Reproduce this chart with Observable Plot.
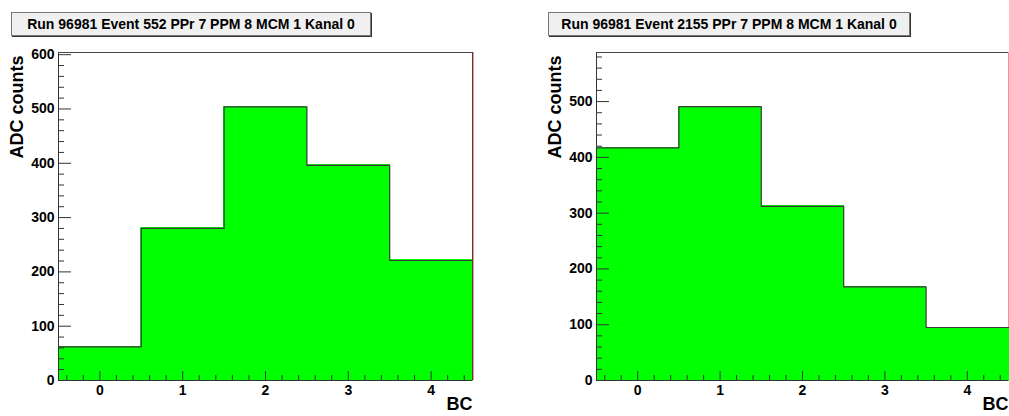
<!DOCTYPE html>
<html><head><meta charset="utf-8">
<script src="https://cdn.jsdelivr.net/npm/d3@7"></script>
<script src="https://cdn.jsdelivr.net/npm/@observablehq/plot@0.6"></script>
<style>
html,body{margin:0;padding:0;background:#fff;overflow:hidden;width:1009px;height:416px;}
#wrap{position:relative;width:1009px;height:416px;overflow:hidden;font-family:"Liberation Sans",Arial,sans-serif;}
.panel{position:absolute;top:0;}
.panel svg{max-width:none !important;display:block;}
.title{position:absolute;top:12px;height:24px;box-sizing:border-box;background:#f0f0f0;border:1px solid #777;box-shadow:1px 1px 0 #333;font-weight:bold;font-size:14px;text-align:center;line-height:23px;color:#000;white-space:nowrap;}
</style></head>
<body>
<div id="wrap"></div>
<script>
// ---- data ----
const bins = [0, 1, 2, 3, 4];
const event552 = [62, 280, 504, 396, 221];
const event2155 = [417, 491, 312, 168, 95];
const titles = ["Run 96981 Event 552 PPr 7 PPM 8 MCM 1 Kanal 0", "Run 96981 Event 2155 PPr 7 PPM 8 MCM 1 Kanal 0"];
const xTickLabels = [0, 1, 2, 3, 4];
const yTickLabels = [0, 100, 200, 300, 400, 500, 600];
const xLabel = "BC";
const yLabel = "ADC counts";
const xDomain = [-0.5, 4.5];

const wrap = document.getElementById("wrap");

function panel({values, yMax, left, width, marginRight, darkRight, title, titleLeft, titleWidth}) {
  const mL = 58, mT = 52, mB = 36, height = 416;
  const frameW = width - mL - marginRight, frameH = height - mT - mB;
  const data = bins.map((b, i) => ({x1: b - 0.5, x2: b + 0.5, v: values[i]}));
  const outline = data.flatMap(d => [[d.x1, d.v], [d.x2, d.v]]);
  const yMinor = d3.range(0, yMax, 20).filter(v => v % 100 !== 0);
  const xMinor = d3.range(-4, 45, 2).map(v => v / 10).filter(v => !Number.isInteger(v));
  const yMajor = yTickLabels.filter(v => v <= yMax);
  const ink = "#333";
  const marks = [
    Plot.ruleX([xDomain[1]], {stroke: "#ff8c8c", dx: darkRight ? 1 : 0}),
    Plot.rect(data, {x1: "x1", x2: "x2", y1: () => 0, y2: "v", fill: "#00ff00", stroke: "#00ff00", strokeWidth: 1, shapeRendering: "crispEdges"}),
    Plot.line(outline, {x: d => d[0], y: d => d[1], stroke: "#3a3a3a", strokeWidth: 1.2}),
    Plot.ruleX([xDomain[0]], {stroke: ink}),
    Plot.ruleY([0], {stroke: ink}),
    Plot.ruleY([yMax], {stroke: "#444"}),
    darkRight ? Plot.ruleX([xDomain[1]], {stroke: "#444"}) : null,
    Plot.ruleY(yMajor, {stroke: ink, insetRight: frameW - 13}),
    Plot.ruleY(yMinor, {stroke: ink, insetRight: frameW - 6}),
    Plot.ruleX(xTickLabels, {stroke: ink, insetTop: frameH - 9}),
    Plot.ruleX(xMinor, {stroke: ink, insetTop: frameH - 5}),
    Plot.text([yLabel], {text: d => d, frameAnchor: "top-left", rotate: -90, textAnchor: "end", dx: -48.5, dy: 3, fontSize: 18, fontWeight: "bold", fill: "#000"}),
    Plot.text([xLabel], {text: d => d, frameAnchor: "bottom-right", textAnchor: "end", dy: 29.2, fontSize: 18, fontWeight: "bold", fill: "#000"})
  ].filter(Boolean);
  const svg = Plot.plot({
    width, height,
    marginLeft: mL, marginRight, marginTop: mT, marginBottom: mB,
    style: {fontFamily: "'Liberation Sans', Arial, sans-serif", fontSize: "14px", fontWeight: "bold", color: "#000", background: "transparent", overflow: "visible", maxWidth: "none"},
    x: {domain: xDomain, ticks: xTickLabels, tickSize: 0, tickPadding: 5, tickFormat: d3.format("d"), label: null},
    y: {domain: [0, yMax], ticks: yMajor, tickSize: 0, tickPadding: 4, tickFormat: d3.format("d"), label: null},
    marks
  });
  const div = document.createElement("div");
  div.className = "panel";
  div.style.left = left + "px";
  div.style.width = width + "px";
  div.style.height = height + "px";
  div.appendChild(svg);
  wrap.appendChild(div);
  const t = document.createElement("div");
  t.className = "title";
  t.style.left = titleLeft + "px";
  t.style.width = titleWidth + "px";
  t.textContent = title;
  wrap.appendChild(t);
}

panel({values: event552, yMax: 604, left: 0, width: 505, marginRight: 33, darkRight: true, title: titles[0], titleLeft: 11, titleWidth: 360});
panel({values: event2155, yMax: 588, left: 538, width: 480, marginRight: 10, darkRight: false, title: titles[1], titleLeft: 548, titleWidth: 362});
</script>
</body></html>
